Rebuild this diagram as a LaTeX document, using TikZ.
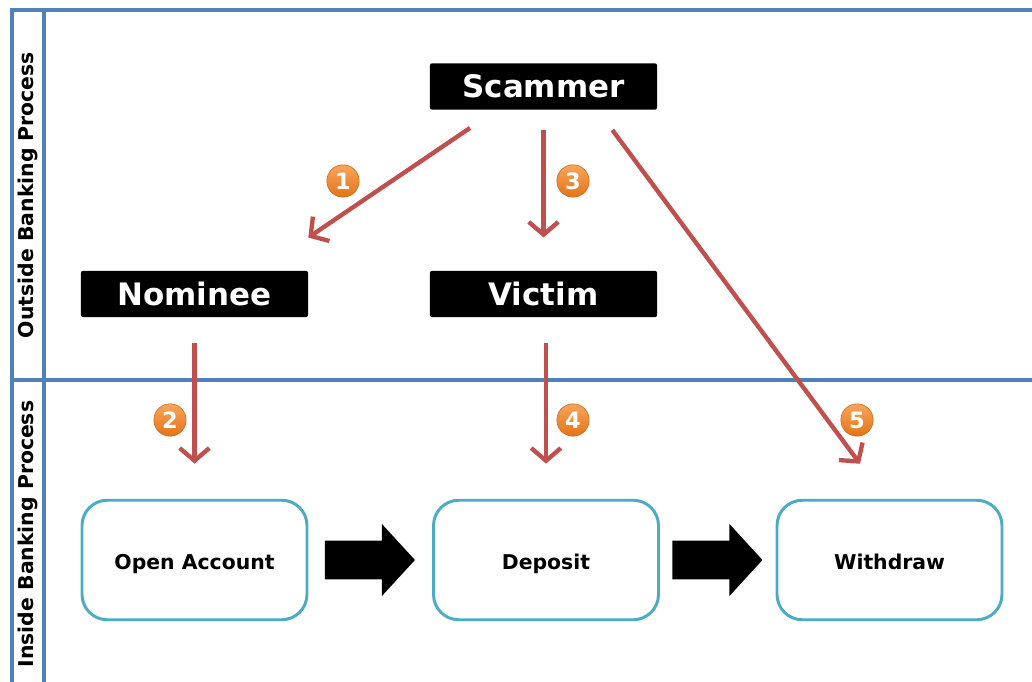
\documentclass[tikz,border=0pt]{standalone}
\usepackage{fontspec}
\setmainfont{DejaVu Sans}
\usetikzlibrary{positioning,arrows.meta,calc,shapes.arrows}
\definecolor{laneblue}{HTML}{4F81BD}
\definecolor{boxcyan}{HTML}{4BACC6}
\definecolor{flowred}{HTML}{C0504D}
\definecolor{badgetop}{HTML}{F9A55A}
\definecolor{badgebot}{HTML}{E4731A}

\begin{document}
\begin{tikzpicture}[
        x=0.025cm, y=-0.025cm,
        lane/.style={laneblue, line width=2.6pt},
        lanelbl/.style={font=\fontsize{14.5}{16}\selectfont\bfseries, text=black},
        actor/.style={fill=black, rounded corners=1.5pt, minimum width=161.5pt, minimum height=33pt,
          inner sep=0pt, text=white, text height=16pt, text depth=0pt,
          font=\fontsize{22}{26}\selectfont\bfseries},
        stage/.style={draw=boxcyan, line width=2.1pt, rounded corners=18pt, fill=white,
          minimum width=160pt, minimum height=85pt, text height=17pt, text depth=3pt,
          font=\fontsize{14.5}{17}\selectfont\bfseries},
        flow/.style={-{Straight Barb[length=9pt, width=21pt]}, flowred, line width=3.1pt},
        badge/.style={circle, top color=badgetop, bottom color=badgebot, draw=badgebot!90!black,
          line width=0.4pt, minimum size=23pt, inner sep=0pt, text=white,
          font=\fontsize{16}{16}\selectfont\bfseries},
        bigarrow/.style={single arrow, fill=black, minimum height=64pt, inner xsep=0pt, inner ysep=13.5pt,
          single arrow head extend=12pt, single arrow tip angle=95, xshift=-6.5pt},
      ]
        \useasboundingbox (0,0) rectangle (1032,682);

        % Swim lanes
        \draw[lane] (12,682) -- (12,10) -- (1034,10);
        \draw[lane] (44,682) -- (44,10);
        \draw[lane] (12,380) -- (1034,380);
        \node[lanelbl, rotate=90] (outlbl) at (28,195) {Outside Banking Process};
        \node[lanelbl, rotate=90] (inlbl) at (28,534) {Inside Banking Process};

        % Actors
        \node[actor] (scammer) at (543.5,86.5) {Scammer};
        \node[actor] (nominee) at (194.5,294) {Nominee};
        \node[actor] (victim) at (543.5,294) {Victim};

        % Banking steps
        \node[stage] (open) at (194.5,560) {Open Account};
        \node[stage] (deposit) at (546,560) {Deposit};
        \node[stage] (withdraw) at (889.5,560) {Withdraw};
        \path (open.east) -- node[bigarrow] (a1) {} (deposit.west);
        \path (deposit.east) -- node[bigarrow] (a2) {} (withdraw.west);

        % Scam flow
        \draw[flow] ($(scammer.south)+(-73.5,18)$) -- ($(nominee.north east)+(0,-33)$);
        \draw[flow, shorten <=14pt, shorten >=23.5pt] (scammer.south) -- (victim.north);
        \draw[flow] ($(scammer.south east)+(-45,20)$) -- ($(withdraw.north)+(-29.5,-35)$);
        \draw[flow, shorten <=18.5pt, shorten >=25pt] (nominee.south) -- (open.north);
        \draw[flow, shorten <=18.5pt, shorten >=25pt] (victim.south -| deposit.north) -- (deposit.north);

        % Step numbers
        \node[badge] (b1) at (343,181) {1};
        \node[badge] (b2) at (170,420) {2};
        \node[badge] (b3) at (573,181) {3};
        \node[badge] (b4) at (573,420) {4};
        \node[badge] (b5) at (857,420) {5};
      \end{tikzpicture}
\end{document}
